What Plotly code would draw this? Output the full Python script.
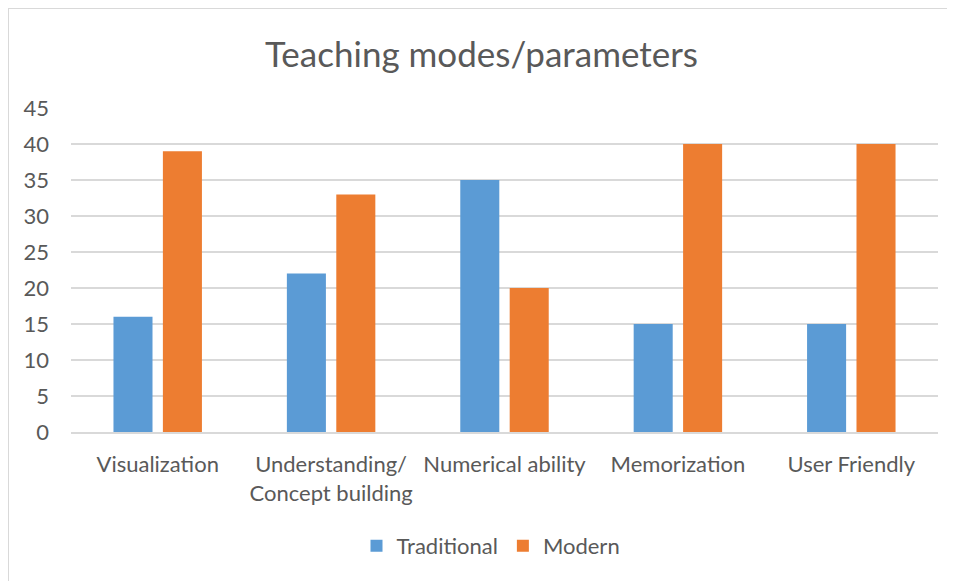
import plotly.graph_objects as go

categories = ["Visualization", "Understanding/<br>Concept building", "Numerical ability", "Memorization", "User Friendly"]
traditional = [16, 22, 35, 15, 15]
modern = [39, 33, 20, 40, 40]
y_ticks = [0, 5, 10, 15, 20, 25, 30, 35, 40, 45]

FONT = "Lato, 'Open Sans', sans-serif"
TXT = "#595959"

fig = go.Figure()
fig.add_trace(go.Bar(name="Traditional", x=categories, y=traditional, marker_color="#5B9BD5", marker_line_width=0))
fig.add_trace(go.Bar(name="Modern", x=categories, y=modern, marker_color="#ED7D31", marker_line_width=0))

OFF = 8  # browser body margin
W, H = 955 - OFF, 581 - OFF
L, R, T, B = 71 - OFF, 17, 108 - OFF, 149
pw, ph = W - L - R, H - T - B

def px_x(x):
    return (x - OFF - L) / pw

def px_y(y):
    return (H - B - (y - OFF)) / ph

fig.update_layout(
    width=W, height=H,
    margin=dict(l=L, r=R, t=T, b=B),
    paper_bgcolor="white", plot_bgcolor="white",
    barmode="group", bargap=0.43, bargroupgap=0.21,
    font=dict(family=FONT, color=TXT, size=22),
    title=dict(text="Teaching modes/parameters", x=0.5, xanchor="center",
               y=1 - (55 - OFF) / H, yanchor="middle",
               font=dict(family=FONT, size=35, color=TXT)),
    xaxis=dict(showgrid=False, showline=True, linecolor="#d9d9d9", linewidth=1.5,
               tickfont=dict(family=FONT, size=22, color=TXT), ticks="", ticklen=0,
               ticklabelstandoff=12),
    yaxis=dict(range=[0, 45], tickvals=y_ticks, showgrid=True, gridcolor="#d9d9d9", gridwidth=1.5,
               zeroline=False, showline=False, ticks="", ticklabelstandoff=21,
               tickfont=dict(family=FONT, size=22, color=TXT)),
    legend=dict(orientation="h", x=px_x(491), xanchor="center", y=px_y(546), yanchor="middle",
                font=dict(family=FONT, size=22, color=TXT), itemwidth=30, traceorder="normal"),
    showlegend=True,
)

fig.add_shape(type="line", xref="paper", yref="paper",
              x0=px_x(7), x1=px_x(965), y0=px_y(8), y1=px_y(8),
              line=dict(color="#d9d9d9", width=2))
fig.add_shape(type="line", xref="paper", yref="paper",
              x0=px_x(8), x1=px_x(8), y0=px_y(8), y1=px_y(590),
              line=dict(color="#d9d9d9", width=2))

fig.write_html("out.html")
